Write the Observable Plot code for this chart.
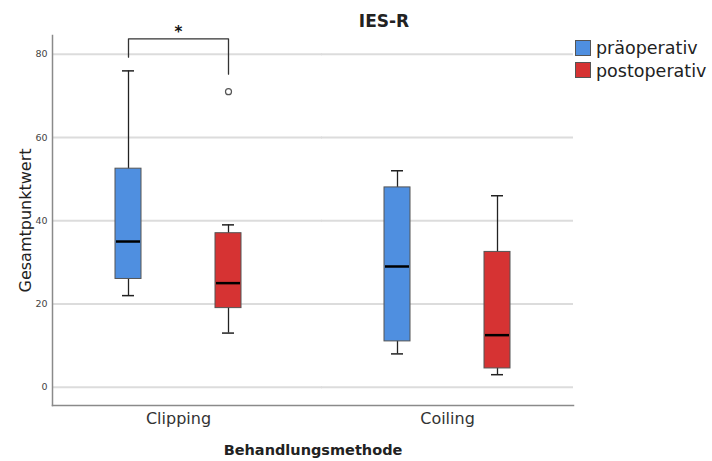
<!DOCTYPE html>
<html>
<head>
<meta charset="utf-8">
<script src="https://cdn.jsdelivr.net/npm/d3@7"></script>
<script src="https://cdn.jsdelivr.net/npm/@observablehq/plot@0.6"></script>
<style>
  html, body { margin: 0; padding: 0; background: #fff; }
  #wrap { position: relative; width: 712px; height: 461px; font-family: "DejaVu Sans", sans-serif; }
  #wrap svg { position: absolute; left: 0; top: 0; }
  #title { position: absolute; left: 284px; width: 200px; top: 13px; text-align: center; font-weight: bold; font-size: 17px; line-height: 1; color: #222; }
  .lg { position: absolute; left: 575px; height: 17px; display: flex; align-items: center; }
  .sw { width: 16px; height: 16px; border: 1px solid #555; box-sizing: border-box; margin-right: 5px; }
  .lt { font-size: 17.5px; line-height: 17px; color: #222; position: relative; top: 1px; }
</style>
</head>
<body>
<div id="wrap"></div>
<script>
// ---- data ----
const methods = ["Clipping", "Coiling"];
const phases = ["präoperativ", "postoperativ"];
const colors = ["#4f8fe0", "#d63333"];
// order: Clipping-prä, Clipping-post, Coiling-prä, Coiling-post
const whiskerLow  = [22, 13, 8, 3];
const quartile1   = [26, 19, 11, 4.5];
const medians     = [35, 25, 29, 12.5];
const quartile3   = [52.5, 37, 48, 32.5];
const whiskerHigh = [76, 39, 52, 46];
const outlierMethod = ["Clipping"];
const outlierPhase = ["postoperativ"];
const outlierValue = [71];
const yTicks = [0, 20, 40, 60, 80];
const yDomain = [-4.4, 84.5];
const bracketPhase = ["präoperativ", "präoperativ", "postoperativ", "postoperativ"];
const bracketValue = [79.3, 83.7, 83.7, 75.2];
const starValue = 85.4;
const titleText = "IES-R";
const xLabel = "Behandlungsmethode";
const yLabel = "Gesamtpunktwert";

// ---- tables ----
const rows = [];
methods.forEach((m, i) => phases.forEach((p, j) => {
  const k = i * phases.length + j;
  rows.push({method: m, phase: p, lo: whiskerLow[k], q1: quartile1[k], med: medians[k], q3: quartile3[k], hi: whiskerHigh[k]});
}));
const outliers = outlierValue.map((v, i) => ({method: outlierMethod[i], phase: outlierPhase[i], value: v}));
const bracket = bracketValue.map((v, i) => ({method: "Clipping", phase: bracketPhase[i], value: v}));
const stars = [{method: "Clipping", value: starValue, label: "*"}];
const gridRows = methods.flatMap(m => yTicks.map(v => ({method: m, value: v})));

const fxPadInner = 0.065;
const gridStyle = {stroke: "#dcdcdc", strokeWidth: 2};

const chart = Plot.plot({
  width: 712,
  height: 461,
  marginLeft: 52,
  marginRight: 139,
  marginTop: 35,
  marginBottom: 56,
  style: {fontFamily: "DejaVu Sans, sans-serif", background: "white"},
  fx: {domain: methods, paddingInner: fxPadInner, paddingOuter: 0, label: null},
  x: {type: "band", domain: phases, paddingInner: 0.741, paddingOuter: 0.6226, axis: null},
  y: {domain: yDomain, label: null},
  color: {domain: phases, range: colors},
  marks: [
    Plot.ruleY(gridRows.filter(d => d.method === methods[0]), {fx: "method", y: "value", insetRight: -18, ...gridStyle}),
    Plot.ruleY(gridRows.filter(d => d.method !== methods[0]), {fx: "method", y: "value", ...gridStyle}),
    Plot.frame({facet: "super", anchor: "left", stroke: "#8a8a8a", strokeWidth: 1.5}),
    Plot.frame({facet: "super", anchor: "bottom", stroke: "#8a8a8a", strokeWidth: 1.5}),
    Plot.axisY({ticks: yTicks, tickSize: 0, tickPadding: 5, fontSize: 9.5, color: "#444", label: null}),
    Plot.axisFx({anchor: "bottom", tickSize: 0, tickPadding: 7, fontSize: 16, color: "#333", label: null}),
    Plot.ruleX(rows, {fx: "method", x: "phase", y1: "lo", y2: "hi", stroke: "#222", strokeWidth: 1.3}),
    Plot.tickY(rows, {fx: "method", x: "phase", y: "lo", insetLeft: 7, insetRight: 7, stroke: "#222", strokeWidth: 1.5}),
    Plot.tickY(rows, {fx: "method", x: "phase", y: "hi", insetLeft: 7, insetRight: 7, stroke: "#222", strokeWidth: 1.5}),
    Plot.barY(rows, {fx: "method", x: "phase", y1: "q1", y2: "q3", fill: "phase", stroke: "#555", strokeWidth: 1}),
    Plot.tickY(rows, {fx: "method", x: "phase", y: "med", stroke: "#000", strokeWidth: 2.5, insetLeft: 1, insetRight: 1}),
    Plot.dot(outliers, {fx: "method", x: "phase", y: "value", r: 3, stroke: "#555", fill: "white", strokeWidth: 1.2}),
    Plot.line(bracket, {fx: "method", x: "phase", y: "value", stroke: "#333", strokeWidth: 1.3}),
    Plot.text(stars, {fx: "method", y: "value", text: "label", fontSize: 15, fontWeight: "bold", fill: "#111"}),
    Plot.text([xLabel], {facet: "super", frameAnchor: "bottom", dy: 45, lineAnchor: "middle", text: d => d, fontSize: 14.5, fontWeight: "bold", fill: "#222"}),
    Plot.text([yLabel], {facet: "super", frameAnchor: "left", dx: -27, rotate: -90, textAnchor: "middle", lineAnchor: "middle", text: d => d, fontSize: 16, fill: "#222"})
  ]
});

const wrap = document.getElementById("wrap");
wrap.appendChild(chart);

const title = document.createElement("div");
title.id = "title";
title.textContent = titleText;
wrap.appendChild(title);

phases.forEach((p, i) => {
  const row = document.createElement("div");
  row.className = "lg";
  row.style.top = (39 + i * 22.5) + "px";
  const sw = document.createElement("div");
  sw.className = "sw";
  sw.style.background = colors[i];
  const t = document.createElement("span");
  t.className = "lt";
  t.textContent = p;
  row.appendChild(sw);
  row.appendChild(t);
  wrap.appendChild(row);
});
</script>
</body>
</html>
